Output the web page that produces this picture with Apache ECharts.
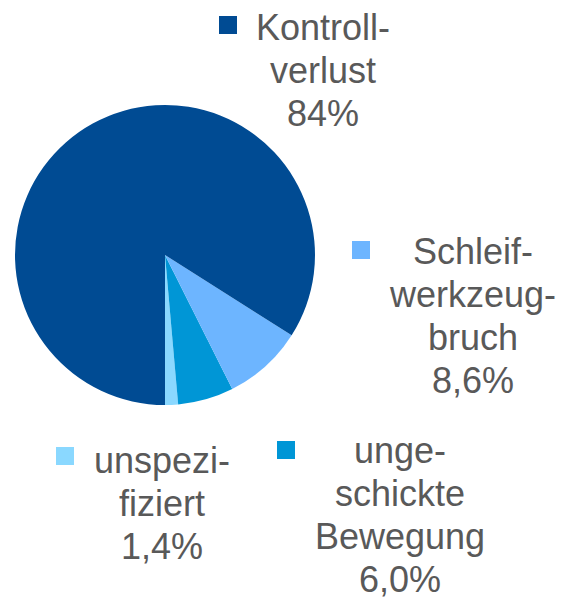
<!DOCTYPE html>
<html>
<head>
<meta charset="utf-8">
<script src="https://cdn.jsdelivr.net/npm/echarts@6/dist/echarts.min.js"></script>
<style>
  html, body { margin: 0; padding: 0; background: #fff; }
  #pieChart { width: 562px; height: 600px; }
</style>
</head>
<body>
<div id="pieChart"></div>
<script>
// Anteile in Prozent, Reihenfolge gegen den Uhrzeigersinn ab 6 Uhr
const categories = ["unspezifiziert", "ungeschickte Bewegung", "Schleifwerkzeugbruch", "Kontrollverlust"];
const shares = [1.4, 6.0, 8.6, 84];
const shareLabels = ["1,4%", "6,0%", "8,6%", "84%"];
const nameLines = [
  ["unspezi-", "fiziert"],
  ["unge-", "schickte", "Bewegung"],
  ["Schleif-", "werkzeug-", "bruch"],
  ["Kontroll-", "verlust"]
];
const colors = ["#8AD8FF", "#0096D6", "#6DB5FF", "#004B93"];

// Position der Beschriftungen (Textmitte x, Mitte erste Zeile y, Quadrat x/y)
const labelPos = [
  { cx: 162, my: 460, sx: 56, sy: 447 },
  { cx: 400, my: 450, sx: 277, sy: 441 },
  { cx: 473, my: 251, sx: 352, sy: 241 },
  { cx: 323, my: 27, sx: 219, sy: 16 }
];
const lineStep = 43;

let myChart = echarts.init(document.getElementById("pieChart"), null, { renderer: "svg" });

let graphics = [];
categories.forEach((name, i) => {
  let p = labelPos[i];
  graphics.push({
    type: "rect",
    left: p.sx,
    top: p.sy,
    shape: { width: 18, height: 18 },
    style: { fill: colors[i] }
  });
  nameLines[i].concat([shareLabels[i]]).forEach((line, k) => {
    graphics.push({
      type: "text",
      x: p.cx,
      y: p.my + k * lineStep,
      style: {
        text: line,
        align: "center",
        verticalAlign: "middle",
        fontFamily: "Liberation Sans, Arial, sans-serif",
        fontSize: 36,
        lineHeight: 30,
        fill: "#595959"
      }
    });
  });
});

let option = {
  animation: false,
  color: colors,
  graphic: graphics,
  series: [
    {
      type: "pie",
      center: [165, 255],
      radius: 150,
      startAngle: 270,
      clockwise: false,
      label: { show: false },
      labelLine: { show: false },
      itemStyle: { borderWidth: 0 },
      emphasis: { disabled: true },
      data: categories.map((name, i) => ({ name: name, value: shares[i] }))
    }
  ]
};

myChart.setOption(option);
</script>
</body>
</html>
